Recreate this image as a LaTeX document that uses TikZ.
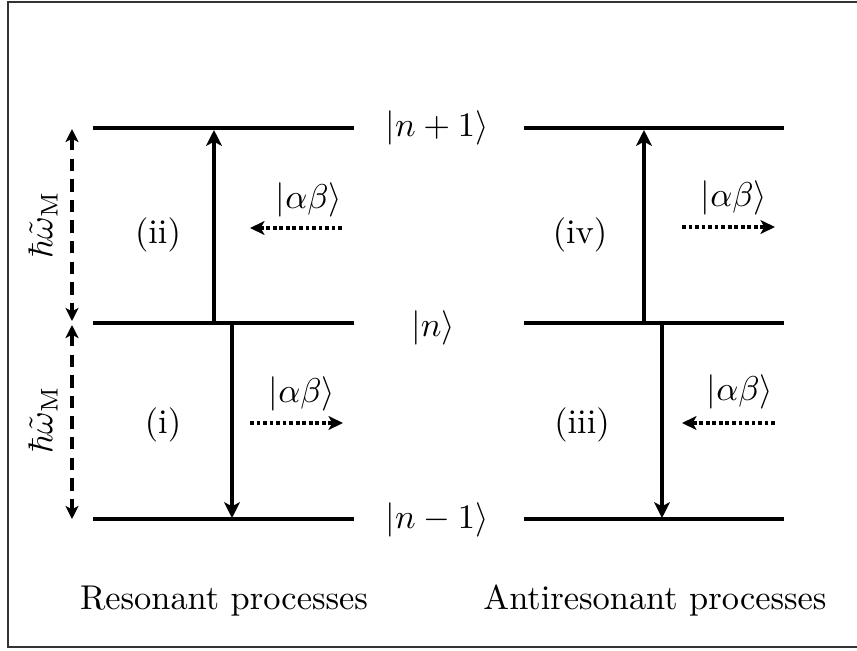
\documentclass[tikz,border=0pt]{standalone}
\usetikzlibrary{arrows.meta}
\tikzset{
  level/.style={line width=1pt},
  trans/.style={line width=1pt,-{Stealth[length=4.6pt,width=4.6pt,inset=1.2pt]}},
  photon/.style={line width=1pt,dash pattern=on 1.1pt off 0.8pt,-{Stealth[length=4.2pt,width=4pt,inset=1.1pt]}},
  energy/.style={line width=1pt,dash pattern=on 3.6pt off 2.4pt,{Stealth[length=3.8pt,width=3.8pt,inset=1pt]}-{Stealth[length=3.8pt,width=3.8pt,inset=1pt]}},
  lbl/.style={inner sep=0pt,font=\normalsize},
}
\begin{document}
\begin{tikzpicture}[x=0.2907pt,y=-0.2907pt]
\useasboundingbox (0,0) rectangle (857,650);
\coordinate (F1) at (857,2); \coordinate (F2) at (8,2);
\coordinate (F3) at (8,647); \coordinate (F4) at (857,647);
\draw[line width=0.5pt,draw=black!80] (F1) -- (F2) -- (F3) -- (F4);
% level coordinates
\coordinate (A3) at (93,128);  \coordinate (B3) at (354,128);
\coordinate (A2) at (93,323);  \coordinate (B2) at (354,323);
\coordinate (A1) at (93,519);  \coordinate (B1) at (354,519);
\coordinate (C3) at (524,128); \coordinate (D3) at (784,128);
\coordinate (C2) at (524,323); \coordinate (D2) at (784,323);
\coordinate (C1) at (524,519); \coordinate (D1) at (784,519);
\draw[level] (A3) -- (B3);
\draw[level] (A2) -- (B2);
\draw[level] (A1) -- (B1);
\draw[level] (C3) -- (D3);
\draw[level] (C2) -- (D2);
\draw[level] (C1) -- (D1);
% level labels
\node[lbl] (k3) at (437,128) {$|n+1\rangle$};
\node[lbl] (k2) at (433,328) {$|n\rangle$};
\node[lbl] (k1) at (437,520) {$|n-1\rangle$};
% transitions
\coordinate (iiS) at (214,323); \coordinate (iiE) at (214,130);
\coordinate (iS) at (232,323);  \coordinate (iE) at (232,518);
\coordinate (ivS) at (644,323); \coordinate (ivE) at (644,130);
\coordinate (iiiS) at (662,323); \coordinate (iiiE) at (662,518);
\draw[trans] (iiS) -- (iiE);
\draw[trans] (iS) -- (iE);
\draw[trans] (ivS) -- (ivE);
\draw[trans] (iiiS) -- (iiiE);
\node[lbl] (pii) at (158,235) {(ii)};
\node[lbl] (pi) at (163,425) {(i)};
\node[lbl] (piv) at (580,235) {(iv)};
\node[lbl] (piii) at (582,425) {(iii)};
% photons
\coordinate (p1s) at (342,228); \coordinate (p1e) at (250,228);
\coordinate (p2s) at (250,423); \coordinate (p2e) at (343,423);
\coordinate (p3s) at (682,227); \coordinate (p3e) at (775,227);
\coordinate (p4s) at (775,423); \coordinate (p4e) at (682,423);
\draw[photon] (p1s) -- (p1e);
\draw[photon] (p2s) -- (p2e);
\draw[photon] (p3s) -- (p3e);
\draw[photon] (p4s) -- (p4e);
\node[lbl] (ab1) at (309,200) {$|\alpha\beta\rangle$};
\node[lbl] (ab2) at (302,394) {$|\alpha\beta\rangle$};
\node[lbl] (ab3) at (734,198) {$|\alpha\beta\rangle$};
\node[lbl] (ab4) at (740,392) {$|\alpha\beta\rangle$};
% energy spacings
\coordinate (e1t) at (72,129); \coordinate (e1b) at (72,321);
\coordinate (e2t) at (72,325); \coordinate (e2b) at (72,519);
\draw[energy] (e1t) -- (e1b);
\draw[energy] (e2t) -- (e2b);
\node[lbl,rotate=90] (w1) at (43,225) {$\hbar\tilde{\omega}_{\mathrm{M}}$};
\node[lbl,rotate=90] (w2) at (43,420) {$\hbar\tilde{\omega}_{\mathrm{M}}$};
% captions
\node[lbl] (cap1) at (224,601) {Resonant processes};
\node[lbl] (cap2) at (655,601) {Antiresonant processes};
\end{tikzpicture}
\end{document}
